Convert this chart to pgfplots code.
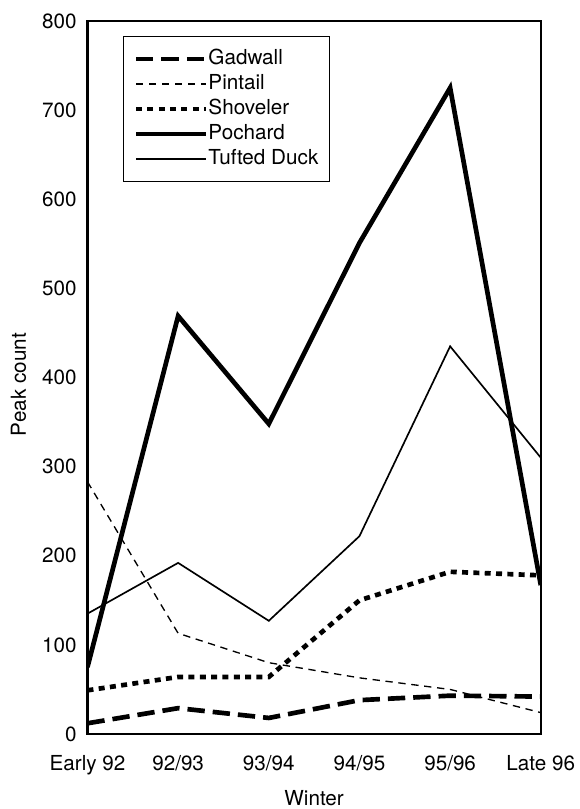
\documentclass[border=0pt]{standalone}
\usepackage{pgfplots}
\pgfplotsset{compat=1.18}
\usepackage{fontspec}
\setmainfont{TeX Gyre Heros}

\begin{document}
\fontsize{15.5}{18}\selectfont
\begin{tikzpicture}
\useasboundingbox (0,0) rectangle (434.25pt,606.75pt);
\begin{axis}[
    at={(65.6pt,56.25pt)}, anchor=south west,
    scale only axis,
    width=340pt, height=534.75pt,
    xmin=0, xmax=5, ymin=0, ymax=800,
    xtick={0,...,5},
    xticklabels={Early 92, 92/93, 93/94, 94/95, 95/96, Late 96},
    ytick={0,100,...,800},
    major tick length=0pt,
    axis line style={line width=1.6pt},
    /pgf/number format/assume math mode=true,
    xticklabel style={anchor=base, yshift=-27pt},
    yticklabel style={anchor=east, inner sep=0pt, xshift=-8pt},
    xlabel={Winter},
    ylabel={Peak count},
    xlabel style={at={(axis description cs:0.5,-0.0996)}, anchor=base},
    ylabel style={at={(axis description cs:-0.1356,0.49)}, anchor=base},
    legend cell align=left,
    legend style={
        at={(0.0776,0.979)}, anchor=north west,
        draw=black, line width=0.75pt,
        inner xsep=8pt, inner ysep=9.4pt,
        row sep=3.75pt,
        nodes={inner sep=0pt, text height=11.5pt, text depth=3.5pt},
    },
    /tikz/every even column/.append style={column sep=3.75pt},
    legend image code/.code={\draw[#1] (0pt,0pt) -- (52.5pt,0pt);},
]
% Gadwall
\addplot[line width=3.5pt, dash pattern=on 13pt off 6pt] coordinates {
    (0,12) (1,29) (2,18) (3,38) (4,43) (5,42)
};
% Pintail
\addplot[line width=1pt, dash pattern=on 5.5pt off 4.25pt] coordinates {
    (0,283) (1,113) (2,80) (3,63) (4,50) (5,24)
};
% Shoveler
\addplot[line width=3.5pt, dash pattern=on 4.5pt off 4pt] coordinates {
    (0,49) (1,64) (2,64) (3,150) (4,182) (5,178)
};
% Pochard
\addplot[line width=3.5pt] coordinates {
    (0,75) (1,469) (2,348) (3,551) (4,725) (5,167)
};
% Tufted Duck
\addplot[line width=1.25pt] coordinates {
    (0,135) (1,192) (2,127) (3,222) (4,435) (5,310)
};
\legend{Gadwall, Pintail, Shoveler, Pochard, Tufted Duck}
\end{axis}
\end{tikzpicture}
\end{document}
